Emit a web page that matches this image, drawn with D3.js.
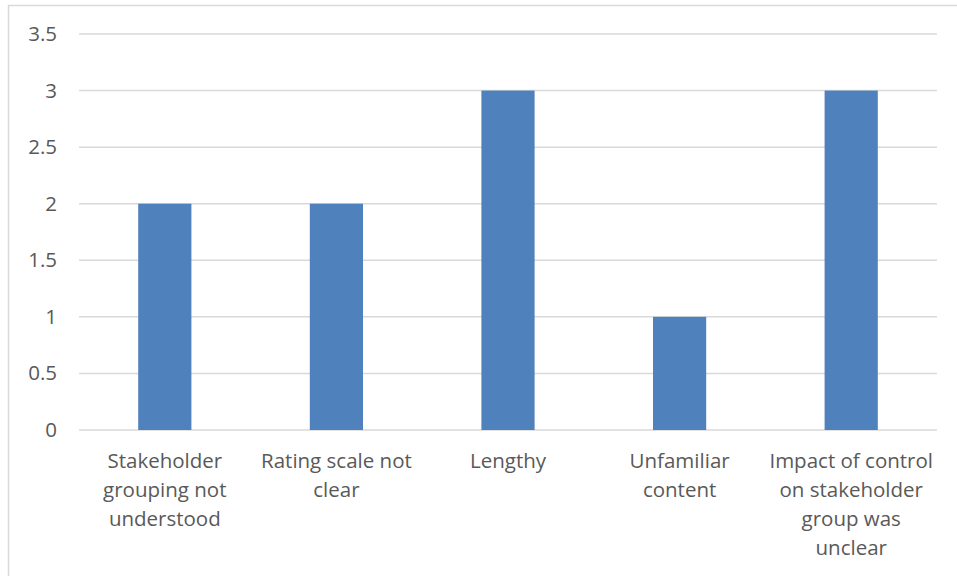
<!DOCTYPE html>
<html>
<head>
<meta charset="utf-8">
<script src="https://cdn.jsdelivr.net/npm/d3@7"></script>
<style>
  body { margin: 0; background: #fff; }
  svg { display: block; }
</style>
</head>
<body>
<script>
// Reasons respondents found the survey hard to complete
const categories = [
  "Stakeholder grouping not understood",
  "Rating scale not clear",
  "Lengthy",
  "Unfamiliar content",
  "Impact of control on stakeholder group was unclear"
];
// Line breaks used for the wrapped category labels
const categoryLines = [
  ["Stakeholder", "grouping not", "understood"],
  ["Rating scale not", "clear"],
  ["Lengthy"],
  ["Unfamiliar", "content"],
  ["Impact of control", "on stakeholder", "group was", "unclear"]
];
const counts = [2, 2, 3, 1, 3];
const yTicks = [0, 0.5, 1, 1.5, 2, 2.5, 3, 3.5];
const yTickLabels = ["0", "0.5", "1", "1.5", "2", "2.5", "3", "3.5"];

const W = 957, H = 576;
const plot = { left: 79, right: 937, top: 34, bottom: 430 };
const labelFont = "'Open Sans', sans-serif";
const labelSize = "20.5px";

const svg = d3.select("body").append("svg")
  .attr("width", W).attr("height", H);

// chart frame
svg.append("rect")
  .attr("x", 8.5).attr("y", 5.5)
  .attr("width", 960).attr("height", 590)
  .attr("fill", "#fff").attr("stroke", "#d9d9d9").attr("stroke-width", 1.5);

const x = d3.scaleBand()
  .domain(categories)
  .range([plot.left, plot.right])
  .paddingInner(0.69)
  .paddingOuter(0.345);

const y = d3.scaleLinear()
  .domain([0, 3.5])
  .range([plot.bottom, plot.top]);

// horizontal gridlines
svg.append("g")
  .selectAll("line")
  .data(yTicks)
  .join("line")
  .attr("x1", plot.left).attr("x2", plot.right)
  .attr("y1", d => y(d)).attr("y2", d => y(d))
  .attr("stroke", "#d9d9d9").attr("stroke-width", 1.5);

// y-axis labels
const yAxis = d3.axisLeft(y)
  .tickValues(yTicks)
  .tickFormat((d, i) => yTickLabels[i])
  .tickSize(0)
  .tickPadding(22);
const gy = svg.append("g")
  .attr("transform", `translate(${plot.left},0)`)
  .call(yAxis);
gy.select(".domain").remove();
gy.selectAll("text")
  .attr("fill", "#595959")
  .style("font-family", labelFont)
  .style("font-size", labelSize);

// bars
svg.append("g")
  .selectAll("rect")
  .data(categories)
  .join("rect")
  .attr("x", d => x(d))
  .attr("width", x.bandwidth())
  .attr("y", (d, i) => y(counts[i]))
  .attr("height", (d, i) => y(0) - y(counts[i]))
  .attr("fill", "#4f81bd");

// x-axis category labels
const xAxis = d3.axisBottom(x).tickSize(0).tickFormat("");
const gx = svg.append("g")
  .attr("transform", `translate(0,${plot.bottom})`)
  .call(xAxis);
gx.select(".domain").remove();
gx.selectAll(".tick").each(function(d, i) {
  const t = d3.select(this).append("text")
    .attr("text-anchor", "middle")
    .attr("fill", "#595959")
    .style("font-family", labelFont)
    .style("font-size", labelSize);
  categoryLines[i].forEach((line, j) => {
    t.append("tspan")
      .attr("x", 0)
      .attr("y", 38 + j * 29)
      .text(line);
  });
});
</script>
</body>
</html>
